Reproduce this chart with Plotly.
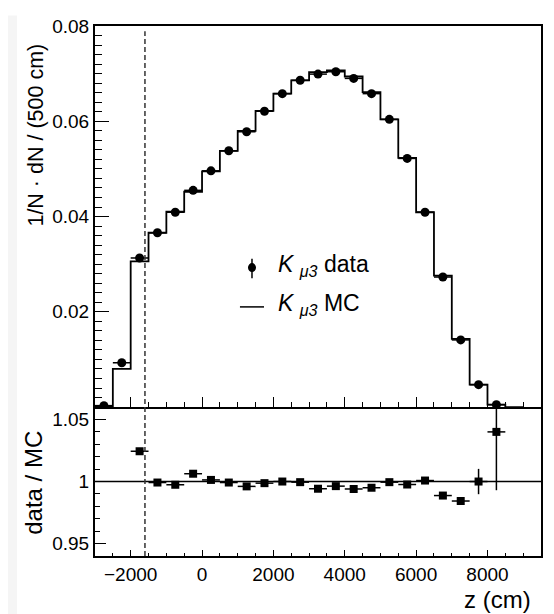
# Imports.
import numpy as np
import plotly.graph_objects as go
from plotly.subplots import make_subplots

# Data.
z_centers = [-2750, -2250, -1750, -1250, -750, -250, 250, 750, 1250, 1750, 2250, 2750,
             3250, 3750, 4250, 4750, 5250, 5750, 6250, 6750, 7250, 7750, 8250, 8750]
mc_values = [0.0002, 0.0080, 0.0306, 0.0366, 0.0410, 0.0452, 0.0495, 0.0538, 0.0580, 0.0622,
             0.0658, 0.0686, 0.0703, 0.0707, 0.0694, 0.0661, 0.0604, 0.0523, 0.0409, 0.0276,
             0.0143, 0.0047, 0.0005, 0.0]

data_z = [-2750, -2250, -1750, -1250, -750, -250, 250, 750, 1250, 1750, 2250, 2750,
          3250, 3750, 4250, 4750, 5250, 5750, 6250, 6750, 7250, 7750, 8250]
data_values = [0.0003, 0.0093, 0.0313, 0.0366, 0.0409, 0.0455, 0.0496, 0.0538, 0.0578, 0.0621,
               0.0658, 0.0686, 0.0699, 0.0704, 0.0690, 0.0658, 0.0604, 0.0522, 0.0409, 0.0273,
               0.0141, 0.0047, 0.0005]
data_errors = [0.0002] * len(data_z)

ratio_z = [-1750, -1250, -750, -250, 250, 750, 1250, 1750, 2250, 2750, 3250, 3750,
           4250, 4750, 5250, 5750, 6250, 6750, 7250, 7750, 8250]
ratio_values = [1.0244, 0.9992, 0.9974, 1.0063, 1.0013, 0.9992, 0.9961, 0.9987, 1.0000, 0.9995,
                0.9942, 0.9963, 0.9940, 0.9950, 0.9995, 0.9976, 1.0008, 0.9887, 0.9843, 1.0000,
                1.0400]
ratio_errors = [0.002, 0.0015, 0.0015, 0.0015, 0.0015, 0.0015, 0.0015, 0.0015, 0.0015, 0.0015,
                0.0015, 0.0015, 0.0015, 0.0015, 0.0015, 0.0015, 0.0018, 0.002, 0.003, 0.0102,
                0.047]

y_ticks = [0.02, 0.04, 0.06, 0.08]
y_ticktext = ['0.02', '0.04', '0.06', '0.08']
y_mid_ticks = [0.01, 0.03, 0.05, 0.07]
ratio_ticks = [0.95, 1.0, 1.05]
ratio_ticktext = ['0.95', '1', '1.05']

bin_width = 500
z_cut = -1600
font = 'Liberation Sans, Arial, sans-serif'

# Create figure.
fig = make_subplots(rows=2, cols=1, shared_xaxes=True, vertical_spacing=0,
                    row_heights=[0.719, 0.281])

# MC histogram (step line from bin edges).
edges = np.array(z_centers) - bin_width / 2
step_x = list(edges) + [edges[-1] + bin_width]
step_y = mc_values + [mc_values[-1]]
fig.add_trace(go.Scatter(x=step_x, y=step_y, mode='lines', line=dict(color='black', width=1.8, shape='hv'),
                         showlegend=False), row=1, col=1)

# Data points.
fig.add_trace(go.Scatter(x=data_z, y=data_values, mode='markers',
                         marker=dict(symbol='circle', size=9, color='black'),
                         error_x=dict(type='constant', value=bin_width / 2, width=0, color='black', thickness=1.5),
                         error_y=dict(type='data', array=data_errors, width=0, color='black', thickness=1.5),
                         showlegend=False), row=1, col=1)

# Ratio panel.
fig.add_trace(go.Scatter(x=ratio_z, y=ratio_values, mode='markers',
                         marker=dict(symbol='square', size=8, color='black'),
                         error_x=dict(type='constant', value=bin_width / 2, width=0, color='black', thickness=1.5),
                         error_y=dict(type='data', array=ratio_errors, width=0, color='black', thickness=1.5),
                         showlegend=False), row=2, col=1)
fig.add_hline(y=1, line=dict(color='black', width=1.5), row=2, col=1)

# Cut line.
fig.add_shape(type='line', xref='x', yref='paper', x0=z_cut, x1=z_cut, y0=0, y1=0.99,
              line=dict(color='#333333', width=1.5, dash='5px,3px'))

# Axes.
axis_style = dict(showline=True, linewidth=2, linecolor='black', mirror=True, showgrid=False,
                  zeroline=False, ticks='inside', tickcolor='black', tickwidth=1.3,
                  ticklabeloverflow='allow', tickfont=dict(family=font, size=19, color='black'))
fig.update_xaxes(range=[-3000, 9500], tickmode='linear', tick0=0, dtick=2000, **axis_style)
fig.update_xaxes(showticklabels=False, ticklen=10,
                 minor=dict(tickmode='linear', tick0=0, dtick=500, ticks='inside', ticklen=5,
                            tickcolor='black', tickwidth=1.3), row=1, col=1)
fig.update_xaxes(ticklen=6, mirror=False,
                 minor=dict(tickmode='linear', tick0=0, dtick=500, ticks='inside', ticklen=3,
                            tickcolor='black', tickwidth=1.3), row=2, col=1)
fig.update_yaxes(range=[0, 0.08], tickmode='array', tickvals=y_ticks, ticktext=y_ticktext, ticklen=14,
                 minor=dict(tickmode='linear', tick0=0, dtick=0.002, ticks='inside', ticklen=7,
                            tickcolor='black', tickwidth=1.3), row=1, col=1, **axis_style)
fig.update_yaxes(range=[0.94, 1.06], tickmode='array', tickvals=ratio_ticks, ticktext=ratio_ticktext,
                 ticklen=11,
                 minor=dict(tickmode='linear', tick0=0.94, dtick=0.01, ticks='inside', ticklen=5,
                            tickcolor='black', tickwidth=1.3), row=2, col=1, **axis_style)

# Medium ticks at the odd hundredths (overlay axis without labels).
fig.update_layout(yaxis3=dict(overlaying='y', anchor='x', side='left', range=[0, 0.08],
                              tickmode='array', tickvals=y_mid_ticks, showticklabels=False,
                              ticks='inside', ticklen=14, tickwidth=1.3, tickcolor='black',
                              showgrid=False, zeroline=False, showline=False))

# Titles.
fig.add_annotation(text='1/N · dN / (500 cm)', xref='paper', yref='paper', x=-0.132, y=0.7935,
                   textangle=-90, showarrow=False, xanchor='center', yanchor='middle',
                   font=dict(family=font, size=21.5, color='black'))
fig.add_annotation(text='data / MC', xref='paper', yref='paper', x=-0.137, y=0.138,
                   textangle=-90, showarrow=False, xanchor='center', yanchor='middle',
                   font=dict(family=font, size=24, color='black'))
fig.add_annotation(text='z (cm)', xref='paper', yref='paper', x=0.982, y=-0.0815,
                   showarrow=False, xanchor='right', yanchor='middle',
                   font=dict(family=font, size=24, color='black'))

# Legend (drawn by hand, ROOT style).
leg_font = dict(family=font, size=23, color='black')
fig.add_shape(type='line', xref='paper', yref='paper', x0=0.352, x1=0.352, y0=0.524, y1=0.561,
              line=dict(color='black', width=1.5))
fig.add_shape(type='circle', xref='paper', yref='paper', x0=0.343, x1=0.361, y0=0.5359, y1=0.5526,
              fillcolor='black', line=dict(color='black', width=0))
fig.add_shape(type='line', xref='paper', yref='paper', x0=0.325, x1=0.379, y0=0.470, y1=0.470,
              line=dict(color='black', width=1.5))
fig.add_annotation(text='<i>K</i> <sub><i>μ3</i></sub> data', xref='paper', yref='paper', x=0.405, y=0.5485,
                   showarrow=False, xanchor='left', yanchor='middle', font=leg_font)
fig.add_annotation(text='<i>K</i> <sub><i>μ3</i></sub> MC', xref='paper', yref='paper', x=0.405, y=0.4745,
                   showarrow=False, xanchor='left', yanchor='middle', font=leg_font)

# Faint page strip on the left.
fig.add_shape(type='rect', xref='paper', yref='paper', x0=-0.196, x1=-0.175, y0=-0.11, y1=1.02,
              fillcolor='#f5f5f5', line=dict(width=0), layer='below')

# The page adds an 8 px body margin, so the figure is 8 px smaller and shifted.
fig.update_layout(width=546, height=606, margin=dict(l=87, r=13, t=8, b=58),
                  plot_bgcolor='white', paper_bgcolor='white', showlegend=False)

# Save fig.
fig.write_html('out.html')
